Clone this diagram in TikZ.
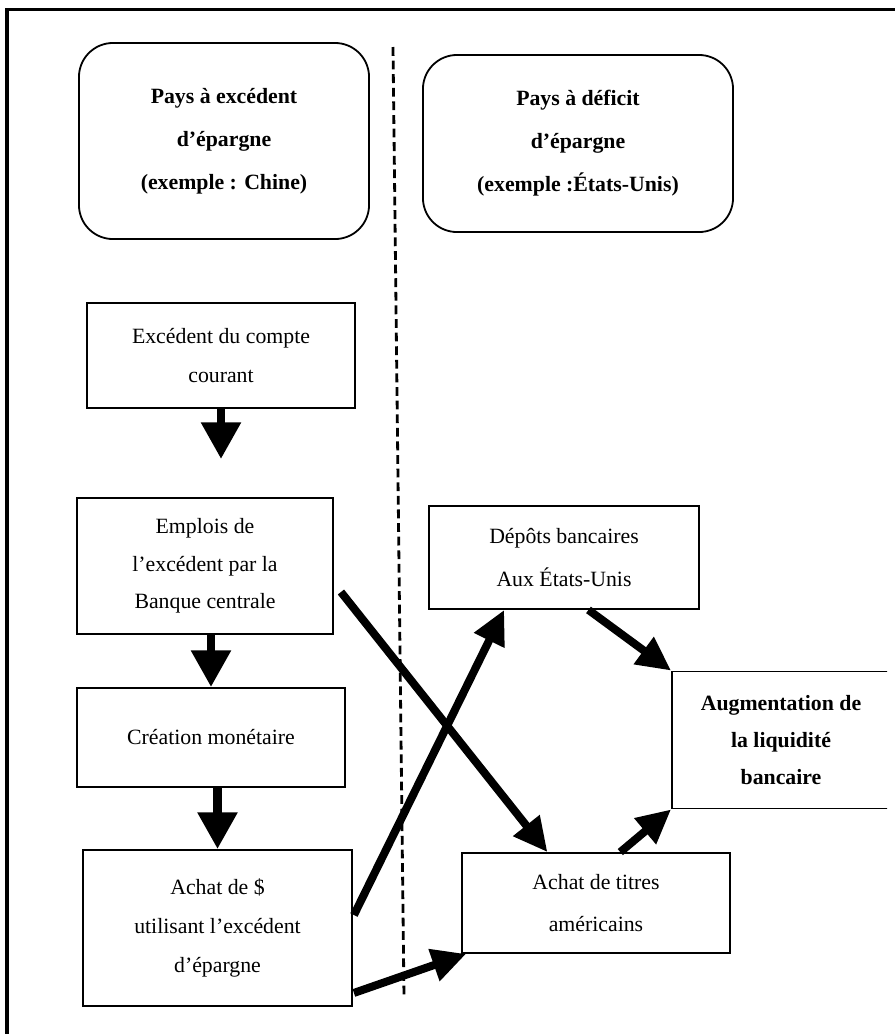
\documentclass[tikz,border=0pt]{standalone}
\usepackage{fontspec}
\setmainfont{Liberation Serif}
\usetikzlibrary{arrows.meta,calc,positioning}
\tikzset{
  box/.style={draw,line width=0.045cm,inner sep=0pt,align=center,font=\fontsize{15.5}{28}\selectfont},
  headbox/.style={box,rounded corners=0.85cm,font=\fontsize{15.5}{30.5}\selectfont\bfseries},
  flow/.style={line width=0.22cm,-{Triangle[length=0.92cm,width=0.95cm]}},
  cross/.style={line width=0.2cm,-{Triangle[length=0.85cm,width=0.8cm]}},
  divide/.style={line width=0.07cm,dash pattern=on 0.22cm off 0.12cm},
}
\begin{document}
\begin{tikzpicture}[x=0.025cm,y=-0.025cm]
\useasboundingbox (0,0) rectangle (895,1034);
\draw[line width=0.075cm] (7,1034) -- (7,9) -- (895,9);
\draw[divide] (393,47) -- (404,997);
\node[headbox,minimum width=7.25cm,minimum height=4.9cm] (surplus) at (224,141) {Pays à excédent\\d'épargne\\(exemple : Chine)};
\node[headbox,minimum width=7.75cm,minimum height=4.425cm] (deficit) at (578,143.5) {Pays à déficit\\d'épargne\\(exemple :États-Unis)};
\node[box,minimum width=6.7cm,minimum height=2.625cm] (cc) at (221,355.5) {Excédent du compte\\courant};
\node[box,minimum width=6.4cm,minimum height=3.4cm,font=\fontsize{15.5}{26.5}\selectfont] (dd) at (205,566) {Emplois de\\l'excédent par la\\Banque centrale};
\node[box,minimum width=6.7cm,minimum height=2.475cm] (ee) at (211,737.5) {Création monétaire};
\node[box,minimum width=6.725cm,minimum height=3.9cm] (ff) at (217.5,928) {Achat de \$\\utilisant l'excédent\\d'épargne};
\node[box,minimum width=6.75cm,minimum height=2.575cm,font=\fontsize{15.5}{30}\selectfont] (gg) at (564,557.5) {Dépôts bancaires\\Aux États-Unis};
\node[box,minimum width=6.7cm,minimum height=2.5cm,font=\fontsize{15.5}{29.5}\selectfont] (ii) at (596,903) {Achat de titres\\américains};
\begin{scope}
\clip (0,0) rectangle (887,1034);
\node[box,minimum width=5.45cm,minimum height=3.425cm,font=\fontsize{15.5}{26}\selectfont\bfseries] (hh) at (781,740) {Augmentation de\\la liquidité\\bancaire};
\end{scope}
\draw[flow,shorten >=0.95cm] (cc.south) -- (cc.south |- dd.north);
\draw[flow] (ee.north |- dd.south) -- (ee.north);
\draw[flow] (ff.north |- ee.south) -- (ff.north);
\draw[cross] ([shift={(7,26)}]dd.east) -- ($(ii.north west)!0.32!(ii.north east)$);
\draw[cross] ([shift={(1,-13)}]ff.east) -- ($(gg.south west)!0.28!(gg.south east)$);
\draw[cross] ([shift={(1,-14)}]ff.south east) -- ([shift={(5,0)}]ii.south west);
\draw[cross] ($(gg.south west)!0.59!(gg.south east)$) -- (hh.north west);
\draw[cross] ($(ii.north west)!0.59!(ii.north east)$) -- (hh.south west);
\end{tikzpicture}
\end{document}
